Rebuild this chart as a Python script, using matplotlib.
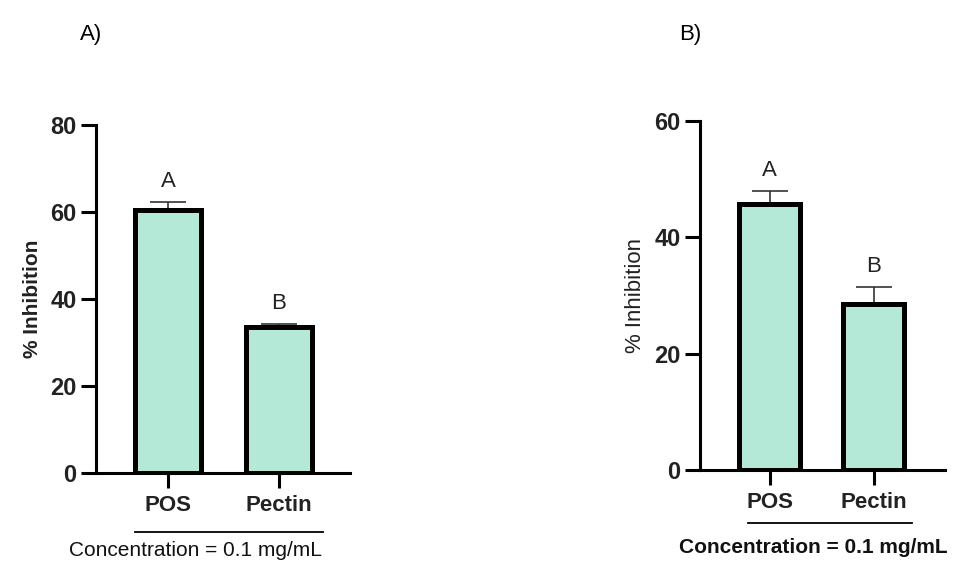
"""Two-panel bar chart: % inhibition of POS vs pectin at 0.1 mg/mL."""
import matplotlib
matplotlib.use("Agg")
import matplotlib.pyplot as plt

plt.rcParams.update({"font.family": ["Liberation Sans", "DejaVu Sans"]})

categories = ["POS", "Pectin"]
vals_a = [60.5, 33.6]
err_a = [1.8, 0.6]
letters_a = ["A", "B"]
vals_b = [45.7, 28.5]
err_b = [2.3, 2.9]
letters_b = ["A", "B"]

FILL = "#b3e9d6"


def panel(fig, rect, vals, errs, letters, ymax, xlim, tag, tag_xy,
          ylab_weight, ylab_size, cond_weight, line_x, line_y, cond_xy):
    ax = fig.add_axes(rect)
    x = range(len(categories))
    ax.errorbar(x, vals, yerr=[[0] * len(errs), errs], fmt="none",
                ecolor="#333333", elinewidth=1.2, capsize=13, capthick=1.2,
                zorder=1)
    ax.bar(x, vals, width=0.59, color=FILL, edgecolor="black",
           linewidth=3.6, zorder=2)
    for xi, v, e, lab in zip(x, vals, errs, letters):
        ax.annotate(lab, (xi, v + e), xytext=(0, 15), textcoords="offset points",
                    ha="center", va="center", fontsize=16, color="#222222")
    ax.set_xlim(*xlim)
    ax.set_ylim(0, ymax)
    ax.set_yticks(range(0, ymax + 1, 20))
    ax.set_xticks(list(x))
    ax.set_xticklabels(categories, fontsize=16, fontweight="bold",
                       color="#222222")
    for t in ax.get_yticklabels():
        t.set_fontsize(17)
        t.set_fontweight("bold")
        t.set_color("#222222")
    ax.tick_params(axis="y", length=11, width=2.2, pad=3)
    ax.tick_params(axis="x", length=11, width=2.2, pad=5)
    for s in ["top", "right"]:
        ax.spines[s].set_visible(False)
    for s in ["left", "bottom"]:
        ax.spines[s].set_linewidth(2.2)
    ax.set_ylabel("% Inhibition", fontsize=ylab_size, fontweight=ylab_weight,
                  color="#222222", labelpad=6)
    ax.plot(line_x, [line_y, line_y], color="black", lw=1.3,
            transform=ax.transAxes, clip_on=False)
    ax.text(cond_xy[0], cond_xy[1], "Concentration = 0.1 mg/mL",
            transform=ax.transAxes, ha="center", va="center",
            fontsize=15, fontweight=cond_weight, color="#111111")
    fig.text(tag_xy[0], tag_xy[1], tag, fontsize=16, ha="left", va="center")
    return ax


fig = plt.figure(figsize=(9.64, 5.63), dpi=100)

panel(fig, [0.0996, 0.160, 0.2635, 0.618], vals_a, err_a, letters_a, 80,
      (-0.649, 1.64), "A)", (0.083, 0.938), "bold", 15, "normal",
      [0.154, 0.894], -0.17, (0.39, -0.224))

panel(fig, [0.726, 0.165, 0.254, 0.620], vals_b, err_b, letters_b, 60,
      (-0.673, 1.683), "B)", (0.705, 0.938), "normal", 16, "bold",
      [0.196, 0.865], -0.152, (0.465, -0.223))

fig.savefig("out.png", dpi=100)
